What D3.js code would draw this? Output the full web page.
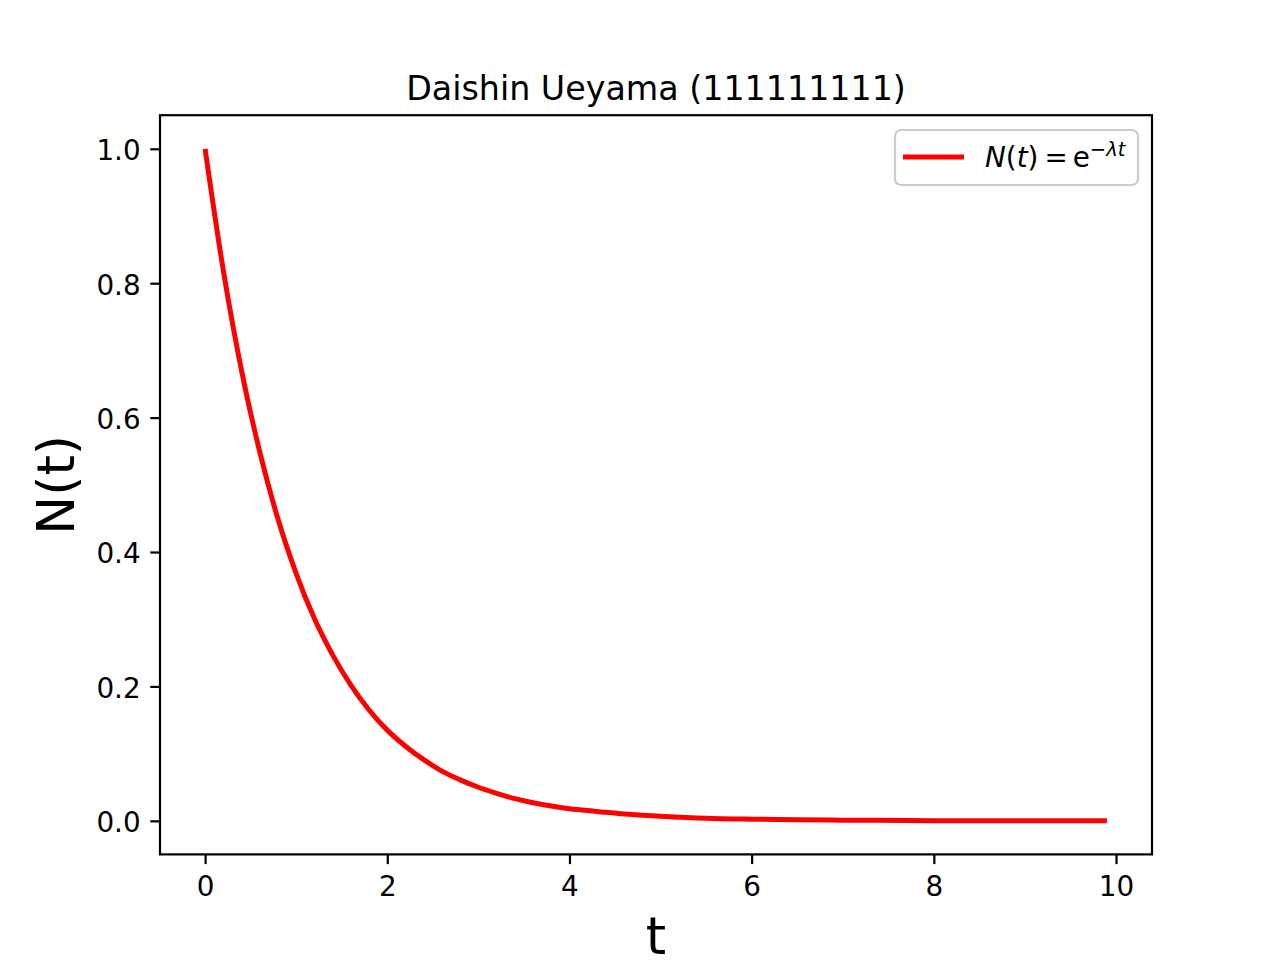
<!DOCTYPE html>
<html>
<head>
<meta charset="utf-8">
<script src="https://cdn.jsdelivr.net/npm/d3@7"></script>
<style>
  body { margin: 0; background: #fff; }
  svg { display: block; font-family: "DejaVu Sans", sans-serif; }
</style>
</head>
<body>
<div id="chart"></div>
<script>
// values
var tValues = [0, 0.2, 0.4, 0.6, 0.8, 1.0, 1.2, 1.4, 1.6, 1.8, 2.0, 2.2, 2.4, 2.6, 2.8, 3.0,
               3.2, 3.4, 3.6, 3.8, 4.0, 4.3, 4.6, 5.0, 5.5, 6.0, 6.5, 7.0, 8.0, 9.0, 9.9];
var nValues = [1.000, 0.819, 0.670, 0.549, 0.449, 0.368, 0.301, 0.247, 0.202, 0.165, 0.135,
               0.111, 0.091, 0.074, 0.061, 0.050, 0.041, 0.033, 0.027, 0.022, 0.018, 0.014,
               0.010, 0.007, 0.004, 0.0025, 0.0015, 0.001, 0.0003, 0.0001, 0.00005];
var xTicks = [0, 2, 4, 6, 8, 10];
var yTicks = [0.0, 0.2, 0.4, 0.6, 0.8, 1.0];
var chartTitle = "Daishin Ueyama (111111111)";

var W = 1280, H = 960;
var margin = {left: 160, right: 1152, top: 115.2, bottom: 854.4};

var data = tValues.map(function(t, i) { return {t: t, n: nValues[i]}; });

var svg = d3.select("#chart").append("svg")
    .attr("width", W).attr("height", H);

// matplotlib style 5% margins
var xExt = d3.extent(data, function(d) { return d.t; });
var yExt = d3.extent(data, function(d) { return d.n; });
var xPad = (xExt[1] - xExt[0]) * 0.05, yPad = (yExt[1] - yExt[0]) * 0.05;

var x = d3.scaleLinear().domain([xExt[0] - xPad, xExt[1] + xPad]).range([margin.left, margin.right]);
var y = d3.scaleLinear().domain([yExt[0] - yPad, yExt[1] + yPad]).range([margin.bottom, margin.top]);

var tickLen = 9.7, tickPad = 9.7;

var xAxis = svg.append("g")
    .attr("transform", "translate(0," + margin.bottom + ")")
    .call(d3.axisBottom(x).tickValues(xTicks).tickFormat(d3.format("d"))
        .tickSize(tickLen).tickPadding(tickPad).tickSizeOuter(0));
xAxis.select(".domain").remove();
xAxis.selectAll("line").attr("stroke", "#000").attr("stroke-width", 2.2);
xAxis.selectAll("text").attr("y", 41.6).attr("dy", 0)
    .attr("font-size", 27.8).attr("fill", "#000").attr("font-family", "DejaVu Sans");

var yAxis = svg.append("g")
    .attr("transform", "translate(" + margin.left + ",0)")
    .call(d3.axisLeft(y).tickValues(yTicks).tickFormat(d3.format(".1f"))
        .tickSize(tickLen).tickPadding(tickPad).tickSizeOuter(0));
yAxis.select(".domain").remove();
yAxis.selectAll("line").attr("stroke", "#000").attr("stroke-width", 2.2);
yAxis.selectAll("text").attr("dy", 0).attr("y", 10.8)
    .attr("font-size", 27.8).attr("fill", "#000").attr("font-family", "DejaVu Sans");

// curve
var line = d3.line()
    .x(function(d) { return x(d.t); })
    .y(function(d) { return y(d.n); })
    .curve(d3.curveMonotoneX);

svg.append("path")
    .datum(data)
    .attr("fill", "none")
    .attr("stroke", "#ff0000")
    .attr("stroke-width", 5)
    .attr("d", line);

// spines
svg.append("rect")
    .attr("x", margin.left).attr("y", margin.top)
    .attr("width", margin.right - margin.left)
    .attr("height", margin.bottom - margin.top)
    .attr("fill", "none").attr("stroke", "#000").attr("stroke-width", 2.2);

// title
svg.append("text")
    .attr("x", (margin.left + margin.right) / 2).attr("y", 100)
    .attr("text-anchor", "middle").attr("font-size", 33.3)
    .text(chartTitle);

// axis labels
svg.append("text")
    .attr("x", (margin.left + margin.right) / 2).attr("y", 954)
    .attr("text-anchor", "middle").attr("font-size", 52)
    .text("t");

svg.append("text")
    .attr("transform", "translate(74," + ((margin.top + margin.bottom) / 2) + ") rotate(-90)")
    .attr("text-anchor", "middle").attr("font-size", 52)
    .text("N(t)");

// legend
var lg = svg.append("g");
lg.append("rect")
    .attr("x", 895).attr("y", 130).attr("width", 243).attr("height", 55)
    .attr("rx", 6).attr("ry", 6)
    .attr("fill", "#fff").attr("fill-opacity", 0.8)
    .attr("stroke", "#cccccc").attr("stroke-width", 2.2);
lg.append("line")
    .attr("x1", 903).attr("x2", 964).attr("y1", 157).attr("y2", 157)
    .attr("stroke", "#ff0000").attr("stroke-width", 5);

var lt = lg.append("text").attr("x", 985).attr("y", 167).attr("font-size", 27.8);
lt.append("tspan").attr("font-style", "italic").text("N");
lt.append("tspan").text("(");
lt.append("tspan").attr("font-style", "italic").text("t");
lt.append("tspan").text(")");
lt.append("tspan").attr("dx", 6).text("=");
lt.append("tspan").attr("dx", 5).text("e");
lt.append("tspan").attr("dy", -11).attr("font-size", 19.5).text("\u2212");
lt.append("tspan").attr("font-size", 19.5).attr("font-style", "italic").text("\u03bbt");
</script>
</body>
</html>
